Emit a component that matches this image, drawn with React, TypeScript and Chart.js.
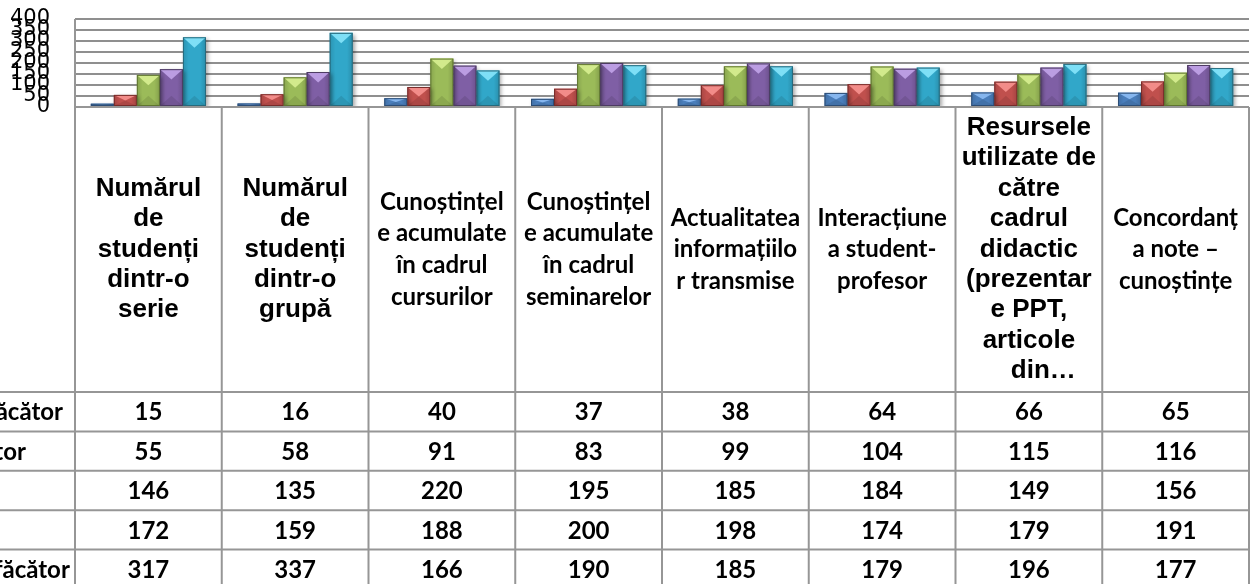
import React, { useEffect, useRef } from "react";
import { Chart, registerables } from "chart.js";

Chart.register(...registerables);

// ---------- DATA ----------
const categoryLines: string[][] = [
  ["Numărul", "de", "studenți", "dintr-o", "serie"],
  ["Numărul", "de", "studenți", "dintr-o", "grupă"],
  ["Cunoștințel", "e acumulate", "în cadrul", "cursurilor"],
  ["Cunoștințel", "e acumulate", "în cadrul", "seminarelor"],
  ["Actualitatea", "informațiilo", "r transmise"],
  ["Interacțiune", "a student-", "profesor"],
  ["Resursele", "utilizate de", "către", "cadrul", "didactic", "(prezentar", "e PPT,", "articole", "    din…"],
  ["Concordanț", "a note –", "cunoștințe"],
];
const categoryFontKind: string[] = ["arial", "arial", "calibri", "calibri", "calibri", "calibri", "arial", "calibri"];

const seriesNames = [
  "Deloc satisfăcător",
  "Nesatisfăcător",
  "Neutru",
  "Satisfăcător",
  "Foarte satisfăcător",
];

const series1 = [15, 16, 40, 37, 38, 64, 66, 65];
const series2 = [55, 58, 91, 83, 99, 104, 115, 116];
const series3 = [146, 135, 220, 195, 185, 184, 149, 156];
const series4 = [172, 159, 188, 200, 198, 174, 179, 191];
const series5 = [317, 337, 166, 190, 185, 179, 196, 177];
const seriesValues = [series1, series2, series3, series4, series5];

const yMin = 0;
const yMax = 400;
const yStep = 50;

const barColors = ["#4A7EBB", "#C0504D", "#9BBB59", "#7F5FA5", "#31A7C9"];
const barTopColors = ["#86B6EE", "#F28C89", "#D2EA8C", "#BB9DE2", "#7EDFF6"];
const barEdgeColors = ["#2C4D75", "#772C2A", "#5F7530", "#4D3B62", "#276A7C"];

// ---------- STYLE ----------
const LINE_COLOR = "#969696";
const FONT_ARIAL = 'bold 26px "Liberation Sans", Arial, sans-serif';
const FONT_CALIBRI = 'bold 24px Lato, "Open Sans", sans-serif';

const shadowPlugin = {
  id: "barShadow",
  beforeDatasetsDraw(chart: any) {
    const ctx = chart.ctx;
    ctx.save();
    ctx.shadowColor = "rgba(0,0,0,0.35)";
    ctx.shadowBlur = 4;
    ctx.shadowOffsetX = 2;
    ctx.shadowOffsetY = 2;
  },
  afterDatasetsDraw(chart: any) {
    const ctx = chart.ctx;
    ctx.restore();
    chart.data.datasets.forEach((_ds: any, di: number) => {
      const meta = chart.getDatasetMeta(di);
      meta.data.forEach((bar: any) => {
        const p = bar.getProps(["x", "y", "base", "width"], true);
        const l = p.x - p.width / 2;
        const r = p.x + p.width / 2;
        const t = Math.min(p.y, p.base);
        const b = Math.max(p.y, p.base);
        const h = b - t;
        if (h <= 0) return;
        const d = Math.min(p.width * 0.45, h * 0.5);
        ctx.save();
        const g = ctx.createLinearGradient(l, 0, r, 0);
        g.addColorStop(0, "rgba(0,0,0,0.12)");
        g.addColorStop(0.25, "rgba(0,0,0,0)");
        g.addColorStop(0.75, "rgba(0,0,0,0)");
        g.addColorStop(1, "rgba(0,0,0,0.15)");
        ctx.fillStyle = g;
        ctx.fillRect(l, t, r - l, h);
        ctx.fillStyle = barTopColors[di];
        ctx.beginPath();
        ctx.moveTo(l, t);
        ctx.lineTo(r, t);
        ctx.lineTo(p.x, t + d);
        ctx.closePath();
        ctx.fill();
        ctx.fillStyle = "rgba(0,0,0,0.10)";
        ctx.beginPath();
        ctx.moveTo(l, b);
        ctx.lineTo(r, b);
        ctx.lineTo(p.x, b - d);
        ctx.closePath();
        ctx.fill();
        ctx.strokeStyle = barEdgeColors[di];
        ctx.lineWidth = 1;
        ctx.strokeRect(l + 0.5, t + 0.5, r - l - 1, h - 1);
        ctx.restore();
      });
    });
  },
};

const tablePlugin = {
  id: "dataTable",
  afterDraw(chart: any) {
    const { ctx, chartArea } = chart;
    const xs = chart.scales.x;
    const n = categoryLines.length;
    const left = chartArea.left;
    const right = chartArea.right;
    const colW = (right - left) / n;
    const headerTop = chartArea.bottom;
    const headerBottom = 392;
    const rowH = 39.4;
    const H = chart.height;

    ctx.save();
    ctx.strokeStyle = LINE_COLOR;
    ctx.lineWidth = 2;

    ctx.beginPath();
    ctx.moveTo(left, chartArea.top);
    ctx.lineTo(left, H);
    ctx.stroke();

    ctx.beginPath();
    ctx.moveTo(left, headerTop);
    ctx.lineTo(right, headerTop);
    ctx.stroke();

    for (let i = 1; i <= n; i++) {
      const xx = left + i * colW;
      ctx.beginPath();
      ctx.moveTo(xx, headerTop);
      ctx.lineTo(xx, H);
      ctx.stroke();
    }

    for (let r = 0; r <= seriesValues.length; r++) {
      const yy = headerBottom + r * rowH;
      ctx.beginPath();
      ctx.moveTo(0, yy);
      ctx.lineTo(right, yy);
      ctx.stroke();
    }

    ctx.fillStyle = "#000";
    ctx.textAlign = "center";
    ctx.textBaseline = "middle";
    const midY = (headerTop + headerBottom) / 2;
    categoryLines.forEach((lines, i) => {
      const cx = xs.getPixelForValue(i);
      const isArial = categoryFontKind[i] === "arial";
      ctx.font = isArial ? FONT_ARIAL : FONT_CALIBRI;
      const lh = isArial ? 30.4 : 31.6;
      const y0 = midY - ((lines.length - 1) * lh) / 2;
      lines.forEach((ln, k) => ctx.fillText(ln, cx, y0 + k * lh));
    });

    ctx.font = FONT_CALIBRI;
    seriesValues.forEach((vals, r) => {
      const cy = headerBottom + r * rowH + rowH / 2 + 1;
      vals.forEach((v, i) => {
        ctx.fillText(String(v), xs.getPixelForValue(i), cy);
      });
    });

    ctx.textAlign = "left";
    const startX = 63 - ctx.measureText(seriesNames[0]).width;
    seriesNames.forEach((name, r) => {
      const cy = headerBottom + r * rowH + rowH / 2 + 1;
      ctx.fillText(name, startX, cy);
    });
    ctx.restore();
  },
};

export default function App() {
  const canvasRef = useRef<HTMLCanvasElement | null>(null);

  useEffect(() => {
    document.body.style.margin = "0";
    const canvas = canvasRef.current;
    if (!canvas) return;
    const labels = categoryLines.map((l) => l.join(" "));
    const chart = new Chart(canvas, {
      type: "bar",
      data: {
        labels,
        datasets: seriesValues.map((vals, i) => ({
          label: seriesNames[i],
          data: vals,
          backgroundColor: barColors[i],
          borderWidth: 0,
          categoryPercentage: 0.785,
          barPercentage: 1.0,
        })),
      },
      options: {
        animation: false,
        responsive: true,
        maintainAspectRatio: false,
        events: [],
        layout: { padding: { top: 19, bottom: 477, left: 0, right: 1 } },
        plugins: {
          legend: { display: false },
          tooltip: { enabled: false },
        },
        scales: {
          x: {
            display: false,
            offset: true,
          },
          y: {
            min: yMin,
            max: yMax,
            afterFit: (scale: any) => {
              scale.width = 75;
              scale.paddingTop = 0;
              scale.paddingBottom = 0;
            },
            ticks: {
              stepSize: yStep,
              autoSkip: false,
              padding: 25,
              color: "#000",
              font: { family: '"DejaVu Sans", sans-serif', size: 21 },
            },
            grid: {
              color: "#8f8f8f",
              lineWidth: 2,
              drawTicks: false,
            },
            border: { display: false },
          },
        },
      },
      plugins: [shadowPlugin, tablePlugin],
    });
    return () => chart.destroy();
  }, []);

  return (
    <div style={{ width: 1250, height: 584, position: "relative", background: "#fff" }}>
      <canvas ref={canvasRef} />
    </div>
  );
}
